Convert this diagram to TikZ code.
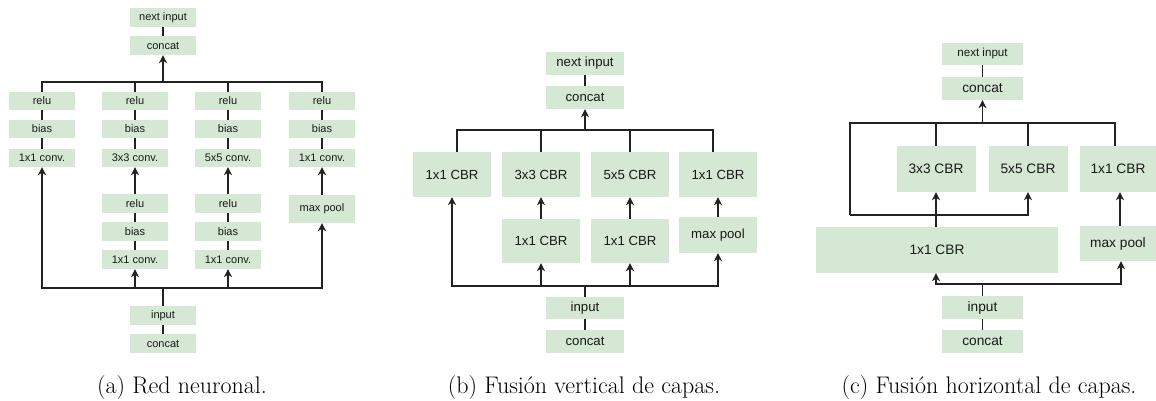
\documentclass[tikz,border=0pt]{standalone}
\usepackage{fontspec}
\setsansfont{Liberation Sans}
\usetikzlibrary{arrows.meta}
\definecolor{boxgreen}{HTML}{D5E8D4}
\definecolor{linegray}{HTML}{222222}
\tikzset{
  blk/.style={fill=boxgreen, draw=none, inner sep=0pt, text=black!90, font=\sffamily},
  fa/.style={blk, font=\sffamily\fontsize{11}{13}\selectfont},
  fb/.style={blk, font=\sffamily\fontsize{13.2}{15}\selectfont},
  fc/.style={blk, font=\sffamily\fontsize{13.7}{16}\selectfont},
  ln/.style={draw=linegray, line width=1.1pt},
  thk/.style={draw=linegray, line width=2pt},
  arr/.style={-{Stealth[length=8pt,width=8pt,inset=2.5pt]}},
  captxt/.style={anchor=base, inner sep=0pt, font=\fontsize{24}{29}\selectfont}
}
\begin{document}
\begin{tikzpicture}[x=1pt,y=-1pt]
\useasboundingbox (0,0) rectangle (1156,401);

% ================= (a) =================
\node[fa, minimum width=66, minimum height=19] (aNext) at (163,17.5) {next input};
\node[fa, minimum width=66, minimum height=19] (aCat) at (163,45.5) {concat};
\foreach \n/\x/\t in {1/42/1x1 conv.,2/135/3x3 conv.,3/228/5x5 conv.,4/322/1x1 conv.}{
  \node[fa, minimum width=66, minimum height=18] (aR\n) at (\x,101) {relu};
  \node[fa, minimum width=66, minimum height=18] (aB\n) at (\x,129) {bias};
  \node[fa, minimum width=66, minimum height=18] (aC\n) at (\x,158) {\t};
}
\foreach \n/\x in {2/135,3/228}{
  \node[fa, minimum width=66, minimum height=19] (aR2\n) at (\x,203.5) {relu};
  \node[fa, minimum width=66, minimum height=19] (aB2\n) at (\x,231.5) {bias};
  \node[fa, minimum width=66, minimum height=19] (aC2\n) at (\x,259.5) {1x1 conv.};
}
\node[fa, minimum width=66, minimum height=28] (aPool) at (322,209) {max pool};
\node[fa, minimum width=66, minimum height=19] (aIn) at (163,315.5) {input};
\node[fa, minimum width=66, minimum height=19] (aCat2) at (163,343.5) {concat};
\coordinate (aBusT) at (163,82);
\coordinate (aBusB) at (163,288);

\draw[ln] (aNext) -- (aCat);
\draw[ln] (aIn) -- (aCat2);
\foreach \n in {1,2,3,4}{
  \draw[ln] (aR\n) -- (aB\n);
  \draw[ln] (aB\n) -- (aC\n);
  \draw[ln] (aR\n.north) |- (aBusT);
}
\foreach \n in {2,3}{
  \draw[ln] (aR2\n) -- (aB2\n);
  \draw[ln] (aB2\n) -- (aC2\n);
  \draw[ln,arr] (aR2\n.north) -- (aC\n.south);
  \draw[ln,arr] (aBusB) -| (aC2\n.south);
}
\draw[ln,arr] (aPool.north) -- (aC4.south);
\draw[ln,arr] (aBusB) -| (aC1.south);
\draw[ln,arr] (aBusB) -| (aPool.south);
\draw[thk,arr] (aBusT) -- (aCat.south);
\draw[thk] (aIn.north) -- (aBusB);
\node[captxt] (capA) at (182,393) {(a) Red neuronal.};

% ================= (b) =================
\node[fb, minimum width=78, minimum height=23] (bNext) at (585,63.5) {next input};
\node[fb, minimum width=78, minimum height=23] (bCat) at (585,97.5) {concat};
\node[fb, minimum width=78, minimum height=45] (bT1) at (452,174.5) {1x1 CBR};
\node[fb, minimum width=78, minimum height=45] (bT2) at (541,174.5) {3x3 CBR};
\node[fb, minimum width=78, minimum height=45] (bT3) at (630,174.5) {5x5 CBR};
\node[fb, minimum width=78, minimum height=45] (bT4) at (718,174.5) {1x1 CBR};
\node[fb, minimum width=78, minimum height=44] (bL2) at (541,241) {1x1 CBR};
\node[fb, minimum width=78, minimum height=44] (bL3) at (630,241) {1x1 CBR};
\node[fb, minimum width=78, minimum height=36] (bPool) at (718,235) {max pool};
\node[fb, minimum width=78, minimum height=22] (bIn) at (585,308) {input};
\node[fb, minimum width=78, minimum height=23] (bCat2) at (585,341.5) {concat};
\coordinate (bBusT) at (585,130);
\coordinate (bBusB) at (585,286);

\draw[ln] (bNext) -- (bCat);
\draw[ln] (bIn) -- (bCat2);
\draw[ln] ([xshift=5pt]bT1.north) |- (bBusT);
\draw[ln] (bT2.north) |- (bBusT);
\draw[ln] (bT3.north) |- (bBusT);
\draw[ln] ([xshift=-5pt]bT4.north) |- (bBusT);
\draw[thk,arr] (bBusT) -- (bCat.south);
\draw[ln,arr] (bL2.north) -- (bT2.south);
\draw[ln,arr] (bL3.north) -- (bT3.south);
\draw[ln,arr] (bPool.north) -- (bT4.south);
\draw[ln,arr] (bBusB) -| (bT1.south);
\draw[ln,arr] (bBusB) -| (bL2.south);
\draw[ln,arr] (bBusB) -| (bL3.south);
\draw[ln,arr] (bBusB) -| (bPool.south);
\draw[thk] (bIn.north) -- (bBusB);
\node[captxt] (capB) at (584,393) {(b) Fusión vertical de capas.};

% ================= (c) =================
\node[fc, minimum width=81, minimum height=22, font=\sffamily\fontsize{11.6}{14}\selectfont] (cNext) at (982.5,54) {next input};
\node[fc, minimum width=81, minimum height=23] (cCat) at (982.5,88.5) {concat};
\node[fc, minimum width=79, minimum height=46] (cT2) at (936,169) {3x3 CBR};
\node[fc, minimum width=79, minimum height=46] (cT3) at (1028,169) {5x5 CBR};
\node[fc, minimum width=77, minimum height=46] (cT4) at (1118,169) {1x1 CBR};
\node[fc, minimum width=242, minimum height=46] (cWide) at (937,250) {1x1 CBR};
\node[fc, minimum width=77, minimum height=35] (cPool) at (1118,243.5) {max pool};
\node[fc, minimum width=81, minimum height=23] (cIn) at (982.5,307.5) {input};
\node[fc, minimum width=81, minimum height=23] (cCat2) at (982.5,341.5) {concat};
\coordinate (cBusT) at (982.5,123);
\coordinate (cBusB) at (982.5,284);
\coordinate (cLoopT) at (850,123);
\coordinate (cLoopB) at (850,215);

\draw[ln] (cNext) -- (cCat);
\draw[ln] (cIn) -- (cCat2);
\draw[ln,arr] (cBusT) -- (cCat.south);
\draw[ln] (cT2.north) |- (cBusT);
\draw[ln] (cT3.north) |- (cBusT);
\draw[ln] ([xshift=-3pt]cT4.north) |- (cBusT);
\draw[ln] (cBusT) -- (cLoopT) -- (cLoopB);
\draw[ln,arr] (cLoopB) -| (cT3.south);
\draw[ln,arr] (cWide.north -| cT2.south) -- (cT2.south);
\draw[ln,arr] ([xshift=2pt]cPool.north) -- ([xshift=2pt]cT4.south);
\draw[ln,arr] (cBusB) -| (cWide.south -| cT2.south);
\draw[ln,arr] (cBusB) -| ([xshift=3pt]cPool.south);
\draw[ln] (cIn.north) -- (cBusB);
\node[captxt] (capC) at (989,393) {(c) Fusión horizontal de capas.};
\end{tikzpicture}
\end{document}
